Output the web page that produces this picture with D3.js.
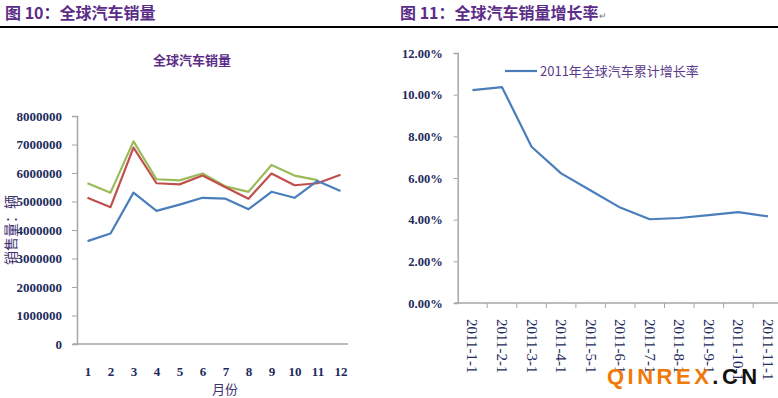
<!DOCTYPE html>
<html>
<head>
<meta charset="utf-8">
<script src="https://cdn.jsdelivr.net/npm/d3@7"></script>
<style>
  body { margin: 0; background: #fff; }
  svg { display: block; }
  .tick text { font-family: "Liberation Serif", "DejaVu Serif", serif; fill: #1c2a5c; font-weight: bold; }
</style>
</head>
<body>
<div id="chart"></div>
<script>
// left chart: monthly global vehicle sales (three years)
var months = ["1", "2", "3", "4", "5", "6", "7", "8", "9", "10", "11", "12"];
var salesBlue = [3610000, 3880000, 5310000, 4670000, 4890000, 5130000, 5100000, 4730000, 5340000, 5130000, 5720000, 5370000];
var salesRed = [5130000, 4800000, 6890000, 5640000, 5600000, 5910000, 5500000, 5100000, 5980000, 5570000, 5640000, 5940000];
var salesGreen = [5640000, 5310000, 7110000, 5780000, 5740000, 5980000, 5530000, 5340000, 6280000, 5910000, 5750000, null];
var salesTicks = [0, 1000000, 2000000, 3000000, 4000000, 5000000, 6000000, 7000000, 8000000];

// right chart: cumulative growth rate 2011
var dates = ["2011-1-1", "2011-2-1", "2011-3-1", "2011-4-1", "2011-5-1", "2011-6-1", "2011-7-1", "2011-8-1", "2011-9-1", "2011-10-1", "2011-11-1"];
var growth = [0.1022, 0.1036, 0.0750, 0.0622, 0.0540, 0.0458, 0.0402, 0.0408, 0.0422, 0.0436, 0.0416];
var growthTicks = [0, 0.02, 0.04, 0.06, 0.08, 0.10, 0.12];

var width = 778, height = 398;
var purple = "#5b2d88";
var cjk = "'Noto Sans CJK SC', sans-serif";

var svg = d3.select("#chart").append("svg")
    .attr("width", width)
    .attr("height", height);

// headers + rule
svg.append("text")
    .attr("x", 5).attr("y", 19)
    .style("font-family", cjk).style("font-size", "16px").style("font-weight", "bold")
    .attr("fill", purple)
    .text("图 10：全球汽车销量");

var h2 = svg.append("text")
    .attr("x", 400).attr("y", 19)
    .style("font-family", cjk).style("font-size", "16px").style("font-weight", "bold")
    .attr("fill", purple)
    .text("图 11：全球汽车销量增长率");
h2.append("tspan").style("font-size", "9px").style("font-weight", "normal").attr("fill", "#777").text("↵");

svg.append("line")
    .attr("x1", 0).attr("x2", width)
    .attr("y1", 27).attr("y2", 27)
    .attr("stroke", "#000").attr("stroke-width", 2);

// ---------- left chart ----------
var x1 = d3.scalePoint()
    .domain(months)
    .range([87.5, 340.5]);

var y1 = d3.scaleLinear()
    .domain([0, 8000000])
    .range([344, 116]);

svg.append("text")
    .attr("x", 192).attr("y", 65)
    .attr("text-anchor", "middle")
    .style("font-family", cjk).style("font-size", "13px").style("font-weight", "bold")
    .attr("fill", purple)
    .text("全球汽车销量");

var yAxis1 = d3.axisLeft(y1)
    .tickValues(salesTicks)
    .tickFormat(d3.format("d"))
    .tickSizeOuter(0)
    .tickSize(5)
    .tickPadding(10);

svg.append("g")
    .attr("transform", "translate(77,0)")
    .style("font-size", "13px")
    .call(yAxis1)
    .call(function(g) {
        g.select(".domain").attr("stroke", "#a6a6a6").attr("stroke-width", 1.5);
        g.selectAll(".tick line").attr("stroke", "#a6a6a6");
    });

svg.append("line")
    .attr("x1", 73).attr("x2", 348)
    .attr("y1", y1(0)).attr("y2", y1(0))
    .attr("stroke", "#a6a6a6").attr("stroke-width", 1.5);

svg.append("g")
    .attr("transform", "translate(0," + y1(0) + ")")
    .style("font-size", "13px")
    .call(d3.axisBottom(x1).tickSize(0).tickPadding(23))
    .call(function(g) { g.select(".domain").remove(); });

svg.append("text")
    .attr("x", 225).attr("y", 394)
    .attr("text-anchor", "middle")
    .style("font-family", cjk).style("font-size", "13px")
    .attr("fill", "#3d3170")
    .text("月份");

svg.append("text")
    .attr("transform", "translate(16,230) rotate(-90)")
    .attr("text-anchor", "middle")
    .style("font-family", cjk).style("font-size", "14px")
    .attr("fill", "#3d3170")
    .text("销售量：辆");

var line1 = d3.line()
    .defined(function(d) { return d != null; })
    .x(function(d, i) { return x1(months[i]); })
    .y(function(d) { return y1(d); });

[[salesGreen, "#9bbb59"], [salesRed, "#c0504d"], [salesBlue, "#4a7ebb"]].forEach(function(s) {
    svg.append("path")
        .datum(s[0])
        .attr("fill", "none")
        .attr("stroke", s[1])
        .attr("stroke-width", 2.2)
        .attr("stroke-linejoin", "round")
        .attr("d", line1);
});

// ---------- right chart ----------
var x2 = d3.scaleBand()
    .domain(dates)
    .range([457.7, 782.7]);

var y2 = d3.scaleLinear()
    .domain([0, 0.12])
    .range([303, 53]);

var yAxis2 = d3.axisLeft(y2)
    .tickValues(growthTicks)
    .tickFormat(d3.format(".2%"))
    .tickSizeOuter(0)
    .tickSize(4)
    .tickPadding(11);

svg.append("g")
    .attr("transform", "translate(" + x2.range()[0] + ",0)")
    .style("font-size", "12.5px")
    .call(yAxis2)
    .call(function(g) {
        g.select(".domain").attr("stroke", "#a6a6a6").attr("stroke-width", 1.5);
        g.selectAll(".tick line").attr("stroke", "#a6a6a6");
    });

svg.append("line")
    .attr("x1", x2.range()[0] - 3).attr("x2", width)
    .attr("y1", y2(0)).attr("y2", y2(0))
    .attr("stroke", "#a6a6a6").attr("stroke-width", 1.5);

// category boundary ticks
svg.selectAll(".xtick2")
    .data(dates.slice(1))
    .enter().append("line")
    .attr("class", "xtick2")
    .attr("x1", function(d) { return x2(d); })
    .attr("x2", function(d) { return x2(d); })
    .attr("y1", y2(0))
    .attr("y2", y2(0) + 5)
    .attr("stroke", "#a6a6a6");

svg.selectAll(".xlab2")
    .data(dates)
    .enter().append("text")
    .attr("class", "xlab2")
    .attr("transform", function(d) {
        return "translate(" + (x2(d) + x2.bandwidth() / 2 - 5) + "," + (y2(0) + 16) + ") rotate(90)";
    })
    .style("font-family", "'Liberation Serif', serif")
    .style("font-size", "15px")
    .attr("fill", "#1c2a5c")
    .text(function(d) { return d; });

var line2 = d3.line()
    .x(function(d, i) { return x2(dates[i]) + x2.bandwidth() / 2; })
    .y(function(d) { return y2(d); });

svg.append("path")
    .datum(growth)
    .attr("fill", "none")
    .attr("stroke", "#4a7ebb")
    .attr("stroke-width", 2.2)
    .attr("stroke-linejoin", "round")
    .attr("d", line2);

// legend
svg.append("line")
    .attr("x1", 505).attr("x2", 537)
    .attr("y1", 71).attr("y2", 71)
    .attr("stroke", "#4a7ebb").attr("stroke-width", 2.2);

svg.append("text")
    .attr("x", 540).attr("y", 76)
    .style("font-family", cjk).style("font-size", "13px")
    .attr("fill", "#5b3a8c")
    .text("2011年全球汽车累计增长率");

// watermark
var wm = svg.append("text")
    .attr("x", 607).attr("y", 384)
    .style("font-family", "'Liberation Sans', Arial, sans-serif")
    .style("font-size", "22px").style("font-weight", "bold")
    .style("letter-spacing", "3.5px");
wm.append("tspan").attr("fill", "#f07a08").text("QINREX");
wm.append("tspan").attr("fill", "#111").text(".CN");
</script>
</body>
</html>
